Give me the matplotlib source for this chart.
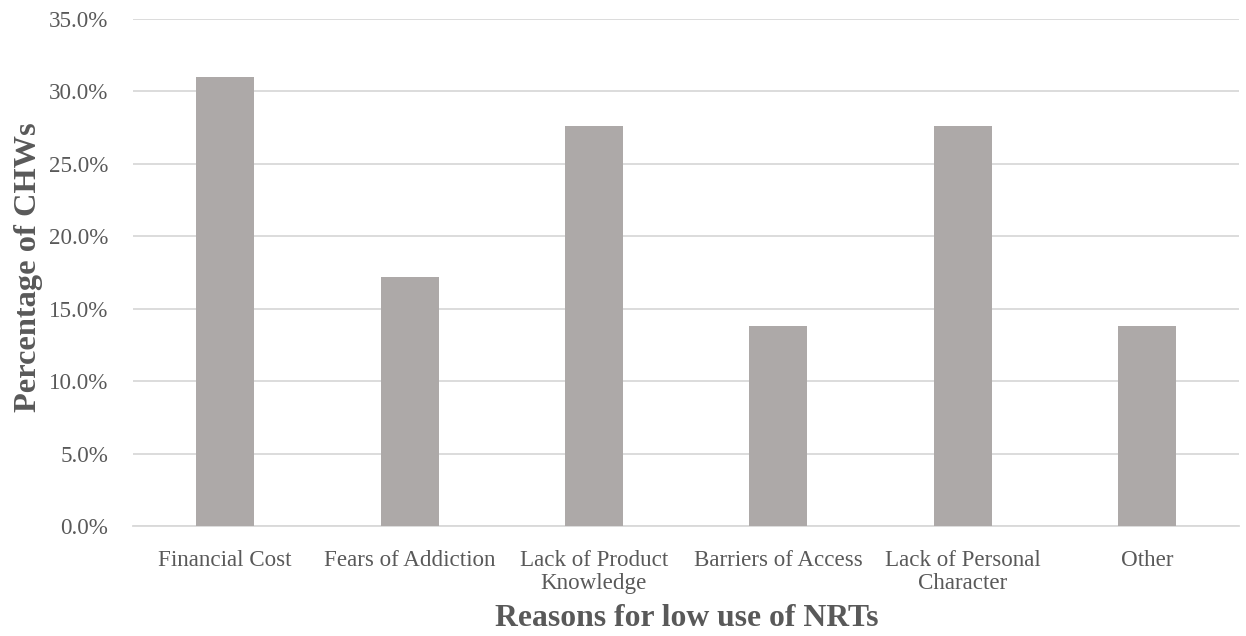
import matplotlib.pyplot as plt
from matplotlib.ticker import PercentFormatter

categories = ["Financial Cost", "Fears of Addiction", "Lack of Product\nKnowledge",
              "Barriers of Access", "Lack of Personal\nCharacter", "Other"]
percentages = [31.0, 17.2, 27.6, 13.8, 27.6, 13.8]

plt.rcParams["font.family"] = ["Liberation Serif", "DejaVu Serif"]
text_color = "#595959"

fig = plt.figure(figsize=(12.46, 6.36), dpi=100)
ax = fig.add_axes([0.1067, 0.173, 0.888, 0.797])

x = range(len(categories))
ax.bar(x, percentages, width=0.315, color="#ADA9A8", zorder=3)

ax.set_xlim(-0.5, len(categories) - 0.5)
ax.set_ylim(0, 35)
ax.set_yticks(range(0, 36, 5))
ax.yaxis.set_major_formatter(PercentFormatter(decimals=1))
ax.set_xticks(list(x))
ax.set_xticklabels(categories, linespacing=1.15)

ax.grid(axis="y", color="#D9D9D9", linewidth=1.3, zorder=0)
for side in ["top", "right", "left"]:
    ax.spines[side].set_visible(False)
ax.spines["bottom"].set_color("#D9D9D9")
ax.spines["bottom"].set_linewidth(1.3)
ax.tick_params(axis="both", length=0, labelsize=16.6, colors=text_color)
ax.tick_params(axis="x", pad=17)
ax.tick_params(axis="y", pad=18)

# axis titles placed in figure coordinates
fig.text(0.551, 0.028, "Reasons for low use of NRTs", fontsize=22.8,
         fontweight="bold", color=text_color, ha="center", va="center")
fig.text(0.0225, 0.58, "Percentage of CHWs", fontsize=23.3, fontweight="bold",
         color=text_color, ha="center", va="center", rotation=90)

fig.savefig("out.png", dpi=100)
